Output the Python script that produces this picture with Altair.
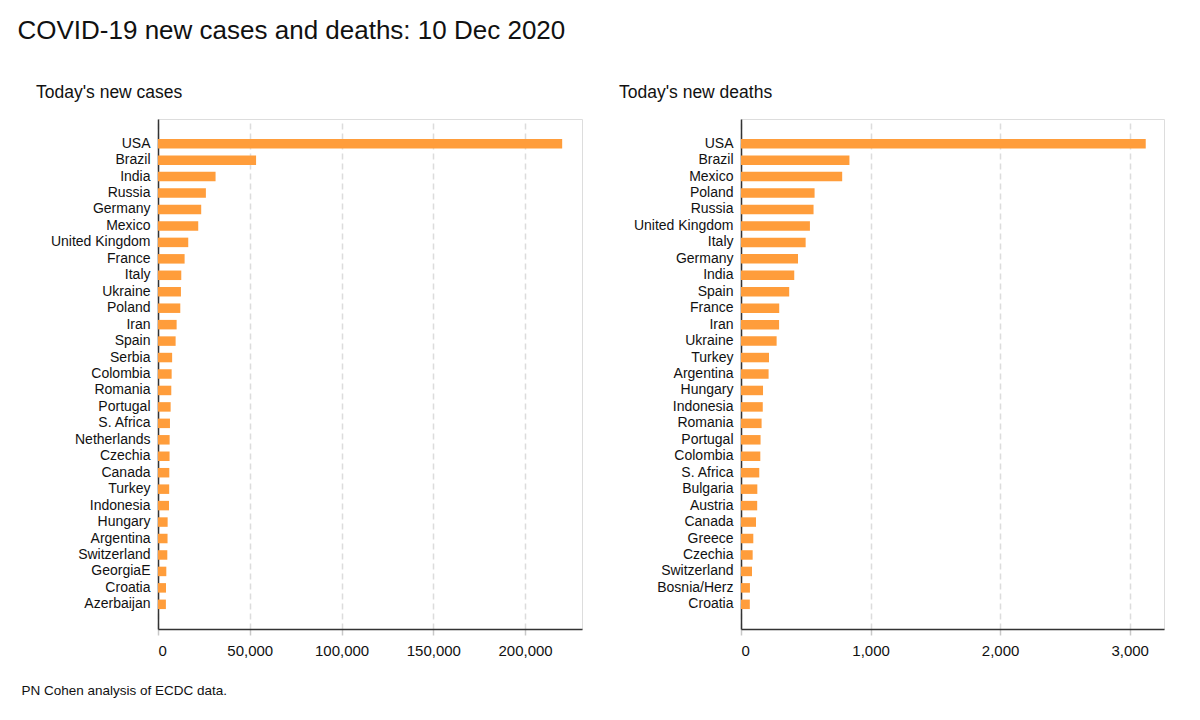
import altair as alt
import pandas as pd

case_countries = ["USA", "Brazil", "India", "Russia", "Germany", "Mexico", "United Kingdom",
                  "France", "Italy", "Ukraine", "Poland", "Iran", "Spain", "Serbia", "Colombia",
                  "Romania", "Portugal", "S. Africa", "Netherlands", "Czechia", "Canada", "Turkey",
                  "Indonesia", "Hungary", "Argentina", "Switzerland", "GeorgiaE", "Croatia", "Azerbaijan"]
case_values = [220200, 53430, 31360, 26090, 23540, 21920, 16480,
               14500, 12680, 12500, 12140, 10150, 9600, 7700, 7440,
               7240, 6890, 6520, 6340, 6300, 6160, 6100,
               5980, 5250, 5200, 5070, 4530, 4350, 4300]

death_countries = ["USA", "Brazil", "Mexico", "Poland", "Russia", "United Kingdom", "Italy",
                   "Germany", "India", "Spain", "France", "Iran", "Ukraine", "Turkey", "Argentina",
                   "Hungary", "Indonesia", "Romania", "Portugal", "Colombia", "S. Africa", "Bulgaria",
                   "Austria", "Canada", "Greece", "Czechia", "Switzerland", "Bosnia/Herz", "Croatia"]
death_values = [3124, 837, 781, 568, 560, 532, 499,
                440, 411, 372, 295, 294, 275, 216, 213,
                170, 168, 159, 151, 149, 141, 126,
                125, 116, 95, 90, 85, 69, 68]

main_title = "COVID-19 new cases and deaths: 10 Dec 2020"
left_title = "Today's new cases"
right_title = "Today's new deaths"
caption = "PN Cohen analysis of ECDC data."

FONT = "Liberation Sans"
BAR = "#ff9d3b"

cases = pd.DataFrame({"country": case_countries, "value": case_values})
deaths = pd.DataFrame({"country": death_countries, "value": death_values})


def panel(df, order, domain_max, ttl, xtitle, tick_step, width):
    axis_kw = dict(
        format=",d",
        values=list(range(0, int(domain_max), tick_step)),
        grid=True, gridDash=[6, 4], gridColor="#dcdcdc", gridWidth=1.5,
        domainColor="#333333", domainWidth=1.5,
        tickColor="#c8c8c8", tickSize=6, tickWidth=1.5,
        labelFont=FONT, labelFontSize=15, labelColor="#111111", labelPadding=8,
    )
    if xtitle:
        xaxis = alt.Axis(title=xtitle,
                         titleFont=FONT, titleFontSize=13.5, titleFontWeight="normal",
                         titleColor="#111111", titleAnchor="start", titleAlign="left",
                         titleBaseline="alphabetic", titleX=-137, titleY=65, **axis_kw)
    else:
        xaxis = alt.Axis(title=None, **axis_kw)
    return alt.Chart(df).mark_bar(color=BAR, size=9.5).encode(
        x=alt.X("value:Q",
                scale=alt.Scale(domain=[0, domain_max], nice=False, zero=True),
                axis=xaxis),
        y=alt.Y("country:N", sort=order,
                scale=alt.Scale(paddingInner=0, paddingOuter=1),
                axis=alt.Axis(title=None, ticks=False, grid=False,
                              domainColor="#333333", domainWidth=1.5,
                              labelFont=FONT, labelFontSize=14, labelColor="#111111",
                              labelPadding=8)),
    ).properties(
        width=width, height=510,
        title=alt.TitleParams(ttl, anchor="start", frame="group", dx=-122,
                              font=FONT, fontSize=17.5, fontWeight="normal",
                              color="#111111", offset=18),
    )


left = panel(cases, case_countries, 231000, left_title, caption, 50000, 424)
right = panel(deaths, death_countries, 3265, right_title, None, 1000, 423)

chart = alt.hconcat(left, right, spacing=35).properties(
    padding={"left": 9, "top": 10, "right": 5, "bottom": 5},
    title=alt.TitleParams(main_title, anchor="start", font=FONT, fontSize=26,
                          fontWeight="normal", color="#111111", offset=39, dx=-3),
).configure_view(stroke=None).configure(background="white")

chart.save("out.html", embed_options={"renderer": "svg", "actions": False})
